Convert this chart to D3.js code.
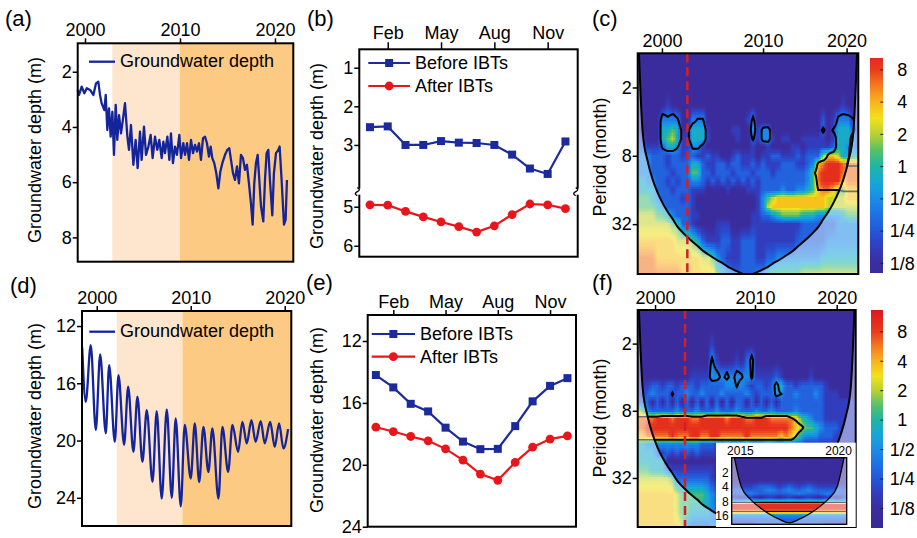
<!DOCTYPE html>
<html>
<head>
<meta charset="utf-8">
<script src="https://cdn.jsdelivr.net/npm/d3@7/dist/d3.min.js"></script>
<style>
body { margin: 0; background: #fff; }
text { font-family: "Liberation Sans", Arial, Helvetica, sans-serif; fill: #000; }
</style>
</head>
<body>
<svg id="fig" width="917" height="538"></svg>
<script>
// ---- groundwater depth series, panels (a) and (d) ----
var aYear = [1999.23,1999.37,1999.65,1999.93,2000.18,2000.53,2000.88,2001.16,2001.40,2001.58,
  2001.75,2002.04,2002.18,2002.35,2002.53,2002.70,2002.88,2003.05,2003.23,2003.40,
  2003.58,2003.79,2003.96,2004.21,2004.46,2004.63,2004.84,2005.09,2005.33,2005.54,
  2005.79,2005.96,2006.21,2006.42,2006.67,2006.91,2007.12,2007.37,2007.61,2007.82,
  2008.07,2008.25,2008.42,2008.67,2008.88,2009.05,2009.26,2009.47,2009.68,2009.93,
  2010.11,2010.35,2010.53,2010.74,2010.95,2011.16,2011.37,2011.58,2011.79,2012.00,
  2012.21,2012.42,2012.63,2012.84,2013.05,2013.23,2013.40,2013.61,2013.82,2014.04,
  2014.25,2014.46,2014.74,2014.98,2015.19,2015.37,2015.58,2015.79,2016.00,2016.21,
  2016.42,2016.63,2016.84,2017.05,2017.26,2017.47,2017.65,2017.82,2018.00,2018.18,
  2018.35,2018.53,2018.77,2018.95,2019.12,2019.30,2019.47,2019.72,2019.89,2020.11,
  2020.35,2020.49,2020.70,2020.95,2021.12,2021.26];
var aDepth = [2.66,2.84,2.54,2.78,2.60,2.66,2.84,2.42,2.36,2.84,
  3.14,3.39,2.84,4.11,3.33,4.35,3.45,5.01,3.20,4.47,
  3.57,4.23,3.81,3.14,4.35,4.83,3.93,5.37,4.47,5.49,
  4.17,5.19,3.99,5.01,4.71,4.29,5.13,4.35,4.83,4.47,
  5.13,4.53,4.95,4.35,5.19,4.23,5.31,4.71,5.01,4.29,
  5.13,4.59,5.01,4.59,5.19,4.47,4.95,4.65,4.89,4.59,
  5.19,4.41,4.35,4.59,5.07,4.71,5.13,5.31,5.67,6.22,
  5.61,5.31,5.01,4.83,4.77,5.19,5.67,5.92,5.43,6.04,
  5.01,5.13,5.55,5.37,6.04,6.76,7.54,6.04,5.31,5.01,
  5.92,6.88,7.42,5.92,4.95,4.83,5.92,7.20,5.67,4.95,
  4.83,4.71,5.92,7.54,7.36,5.92];
var dYear = [1998.45,1998.83,1999.36,1999.90,2000.36,2000.96,2001.32,2001.92,2002.31,2002.91,
  2003.34,2003.90,2004.33,2004.86,2005.32,2005.93,2006.38,2006.91,2007.45,2007.98,
  2008.40,2008.94,2009.36,2010.00,2010.43,2010.90,2011.35,2011.88,2012.30,2012.95,
  2013.37,2013.98,2014.44,2015.04,2015.50,2015.96,2016.46,2016.90,2017.45,2017.87,
  2018.45,2018.94,2019.40,2019.86,2020.36];
var dDepth = [13.5,17.3,13.33,19.27,13.98,19.5,14.73,20.09,15.43,20.3,
  16.24,20.79,16.94,21.49,17.87,22.89,17.94,24.05,17.83,24.0,
  18.45,24.6,18.9,22.65,18.8,22.9,19.04,22.2,19.15,24.05,
  19.04,22.19,18.9,20.79,18.69,20.2,18.57,20.09,18.64,20.2,
  18.69,20.44,18.8,20.55,19.2];
var seriesTicks = [2000, 2010, 2020];

// ---- monthly mean depth, panels (b) and (e) ----
var months = [1, 2, 3, 4, 5, 6, 7, 8, 9, 10, 11, 12];
var monthTicks = [2, 5, 8, 11];
var monthLabels = ['Feb', 'May', 'Aug', 'Nov'];
var bBefore = [2.54, 2.52, 3.0, 3.0, 2.9, 2.94, 2.95, 3.0, 3.25, 3.61, 3.75, 2.91];
var bAfter = [4.95, 4.96, 5.12, 5.26, 5.39, 5.51, 5.65, 5.49, 5.2, 4.93, 4.95, 5.05];
var eBefore = [14.2, 15.0, 16.06, 16.55, 17.6, 18.5, 18.99, 18.97, 17.5, 15.9, 14.9, 14.4];
var eAfter = [17.57, 17.85, 18.17, 18.45, 18.97, 19.7, 20.6, 21.0, 19.84, 18.86, 18.34, 18.13];

// ---- wavelet spectra, panels (c), (f) and the inset ----
// rows: log2(period, months); one digit per column, 0 = 1/8 ... 9 = >8 (power level)
var wtRowsL = [0, 0.5, 1, 1.5, 2, 2.25, 2.5, 2.75, 3, 3.25, 3.5, 3.75, 4, 4.25, 4.5, 4.75, 5, 5.5, 6, 6.5];
var cPower = [
  "00000 00000 00000 00000 00000 00000 00000 00000 00000",
  "00000 00000 00000 00000 00000 00000 00000 00000 00000",
  "00000 00000 00000 00000 00000 00000 00000 00000 00000",
  "00000 01000 00000 00000 00000 00000 00000 00000 01000",
  "10000 33330 03330 00000 00130 00000 00000 00201 33311",
  "10000 44540 14441 00001 10031 33000 00000 00201 44421",
  "21000 45641 14441 00000 10021 33101 10011 11101 44432",
  "22111 24431 13310 00000 00010 01000 01101 11112 44332",
  "33322 21221 22112 11001 21110 11221 11212 22677 64444",
  "33322 21222 24421 12212 21121 21112 22112 37899 98888",
  "33322 22122 25522 12221 22212 22122 22223 58999 98888",
  "44332 21212 23321 21212 12121 22222 22223 58999 97888",
  "44442 22122 21110 00010 00111 22223 22334 57887 55777",
  "55543 22221 21000 00000 00001 35677 77777 77766 66777",
  "55554 32222 21000 00000 00001 36777 77777 77766 66666",
  "66665 54322 21100 00000 00011 22345 55544 43333 34555",
  "66666 66552 21000 01110 00011 11111 11122 22222 33333",
  "77777 77766 65421 11221 12221 11111 11222 22233 33333",
  "88887 77777 77766 53211 12221 12233 33333 33444 44444",
  "88888 88887 77777 75432 22223 34555 55566 66666 66666"];
var cSignif = [
  "00000 00000 00000 00000 00000 00000 00000 00000 00000",
  "00000 00000 00000 00000 00000 00000 00000 00000 00000",
  "00000 00000 00000 00000 00000 00000 00000 00000 00000",
  "00000 00000 00000 00000 00000 00000 00000 00000 00000",
  "00000 97960 04660 00000 00070 00000 00000 00000 79860",
  "00000 99993 49992 00000 00090 78000 00000 00706 99970",
  "00000 99993 49992 00000 00060 78000 00000 00000 99900",
  "00000 69950 06630 00000 00000 00000 00000 00000 99700",
  "00000 00000 00000 00000 00000 00000 00000 00069 99600",
  "00000 00000 00000 00000 00000 00000 00000 06999 99444",
  "00000 00000 00000 00000 00000 00000 00000 47999 99999",
  "00000 00000 00000 00000 00000 00000 00000 07999 99999",
  "00000 00000 00000 00000 00000 00000 00000 05555 56666",
  "00000 00000 00000 00000 00000 00000 00000 00000 00000",
  "00000 00000 00000 00000 00000 00000 00000 00000 00000",
  "00000 00000 00000 00000 00000 00000 00000 00000 00000",
  "00000 00000 00000 00000 00000 00000 00000 00000 00000",
  "00000 00000 00000 00000 00000 00000 00000 00000 00000",
  "00000 00000 00000 00000 00000 00000 00000 00000 00000",
  "00000 00000 00000 00000 00000 00000 00000 00000 00000"];
var fPower = [
  "00000 00000 00000 00000 00000 00000 00000 00000 00000",
  "00000 00000 00000 00000 00000 00000 00000 00000 00000",
  "00000 00000 00000 10000 00000 00000 00000 00000 00000",
  "00000 00000 00000 31000 10230 00000 00000 00000 00000",
  "00000 00000 01111 33333 33331 11121 00000 10000 00000",
  "11122 12212 22122 22233 33212 21244 22122 22210 00000",
  "11232 22122 32232 22322 22321 22233 22322 23211 10000",
  "22202 02020 20202 02020 22020 20202 22222 22211 11111",
  "65322 22232 22322 23222 32223 22322 22322 22211 11111",
  "88889 99899 98899 99989 99889 99888 88754 32211 11111",
  "88999 99999 99999 99999 99999 99999 98765 54322 21111",
  "77888 88988 89988 99888 88988 88887 87643 33222 11111",
  "44333 33333 33322 21121 11211 12211 22221 11111 11111",
  "44442 12121 21211 11111 11111 11111 11111 11111 11111",
  "44444 40000 00000 00000 00000 00000 00000 00000 11111",
  "55544 42111 11111 10000 00000 00000 00000 00000 11111",
  "66666 66522 22222 10000 00000 00000 00000 00000 11111",
  "77777 77765 55554 32111 11111 11111 11111 11111 11111",
  "77777 77765 54444 32222 22222 22222 22222 22222 22222",
  "77777 77776 32222 33333 33333 33333 33333 33333 33333"];
var fSignif = [
  "00000 00000 00000 00000 00000 00000 00000 00000 00000",
  "00000 00000 00000 00000 00000 00000 00000 00000 00000",
  "00000 00000 00000 00000 00000 00000 00000 00000 00000",
  "00000 00000 00000 60000 00070 00000 00000 00000 00000",
  "00000 00000 00000 98372 86060 00000 00000 00000 00000",
  "00000 00000 00000 00000 60000 00080 00000 00000 00000",
  "00000 00600 00000 00000 00000 00075 00000 00000 00000",
  "00000 00000 00000 00000 00000 00000 00000 00000 00000",
  "00000 00000 00000 00000 00000 00000 00000 00000 00000",
  "77777 88888 87779 99999 97666 68888 86400 00000 00000",
  "99999 99999 99999 99999 99999 99999 99972 00000 00000",
  "99999 99999 99999 99999 99999 99999 99510 00000 00000",
  "00000 00000 00000 00000 00000 00000 00000 00000 00000",
  "00000 00000 00000 00000 00000 00000 00000 00000 00000",
  "00000 00000 00000 00000 00000 00000 00000 00000 00000",
  "00000 00000 00000 00000 00000 00000 00000 00000 00000",
  "00000 00000 00000 00000 00000 00000 00000 00000 00000",
  "00000 00000 00000 00000 00000 00000 00000 00000 00000",
  "00000 00000 00000 00000 00000 00000 00000 00000 00000",
  "00000 00000 00000 00000 00000 00000 00000 00000 00000"];
var insetPower = [
  "0000000000000", "0000000000000", "0000000000000", "0000000000000",
  "1112212121111", "2222323232222", "2232222322322", "1010101010102",
  "4455555555544", "9999999999999", "9999999999999", "7777777777777",
  "3333333333333", "2222222222222", "1112222222111", "2222222222222",
  "2222222222222", "2222222222222", "2222222222222", "2222222222222"];
var insetSignif = [
  "0000000000000", "0000000000000", "0000000000000", "0000000000000",
  "0000000000000", "0000000000000", "0000000000000", "0000000000000",
  "3333333333333", "9999999999999", "9999999999999", "4444444444444",
  "0000000000000", "0000000000000", "0000000000000", "0000000000000",
  "0000000000000", "0000000000000", "0000000000000", "0000000000000"];
// cone of influence (period in months) for each spectrum column
var coiMain = [0.5,5,9,13,17,21,25,29,34,38,42,46,50,55,59,63,67,71,76,80,84,88,92,
  88,84,80,76,71,67,63,59,55,50,46,42,38,34,29,25,21,17,13,9,5,0.5];
var coiInset = [0.5,4,7.5,11,15,19,22.5,19,15,11,7.5,4,0.5];
var wtYearLabels = [2000, 2010, 2020];
var cYearIdx = [29, 150, 250];
var fYearIdx = [21, 142, 241];
var insetYearLabels = [2015, 2020];
var insetYearIdx = [4.3, 55.5];
var cIbtIdx = 59.4, fIbtIdx = 57.3;
var periodTicks = [2, 8, 32];
var insetPeriodTicks = [2, 4, 8, 16];
var cbValues = [3, 2, 1, 0, -1, -2, -3];
var cbLabels = ['8', '4', '2', '1', '1/2', '1/4', '1/8'];

var FONT = '"Liberation Sans", Arial, Helvetica, sans-serif';
var svg = d3.select('#fig');
var defs = svg.append('defs');
svg.append('rect').attr('width', 917).attr('height', 538).attr('fill', '#fff');

var powerColor = d3.scaleLinear()
  .domain([-3.7, -3.0, -2.4, -2.0, -1.5, -1.0, -0.5, 0, 0.5, 1.0, 1.5, 2.0, 2.5, 3.0, 3.8])
  .range(['#382896', '#3b2d9f', '#3040c2', '#2456d8', '#1f6fe3', '#1b8be6', '#17a6d8', '#1db5a6',
    '#55c06a', '#b5d035', '#f2e11c', '#f8b51d', '#f47d1f', '#ea3d1d', '#dc151c'])
  .clamp(true);
var levelScale = d3.scaleLinear().domain([0, 9]).range([-3.2, 3.28]);

function parseGrid(rows) {
  return rows.map(function(s) { return s.replace(/ /g, '').split('').map(Number); });
}

function sampleGrid(grid, c, L) {
  var nC = grid[0].length;
  c = Math.max(0, Math.min(nC - 1, c));
  var c0 = Math.min(Math.floor(c), nC - 2), tc = c - c0;
  var r1 = d3.bisectRight(wtRowsL, L), r0;
  if (r1 >= wtRowsL.length) { r1 = wtRowsL.length - 1; L = wtRowsL[r1]; }
  if (r1 < 1) r1 = 1;
  r0 = r1 - 1;
  var tr = Math.max(0, Math.min(1, (L - wtRowsL[r0]) / (wtRowsL[r1] - wtRowsL[r0])));
  var a = grid[r0][c0] * (1 - tc) + grid[r0][c0 + 1] * tc;
  var b = grid[r1][c0] * (1 - tc) + grid[r1][c0 + 1] * tc;
  return a * (1 - tr) + b * tr;
}

function styleAxis(sel, size) {
  sel.attr('font-family', FONT).attr('font-size', size);
  sel.select('.domain').remove();
  sel.selectAll('line').attr('stroke', '#000').attr('stroke-width', 1.5);
  sel.selectAll('text').attr('fill', '#000');
}

function panelLabel(txt, x, y) {
  svg.append('text').attr('x', x).attr('y', y).style('font-size', '22px').text(txt);
}

function yTitle(txt, x, cy) {
  svg.append('text').attr('transform', 'translate(' + x + ',' + cy + ') rotate(-90)')
    .attr('text-anchor', 'middle').style('font-size', '18px').text(txt);
}

function border(g, o, w) {
  g.append('rect').attr('x', o.left).attr('y', o.top).attr('width', o.right - o.left)
    .attr('height', o.bottom - o.top).attr('fill', 'none').attr('stroke', '#000').attr('stroke-width', w);
}

function drawSeriesPanel(o) {
  var g = svg.append('g');
  var x = d3.scaleLinear().domain(o.xDomain).range([o.left, o.right]);
  var y = d3.scaleLinear().domain(o.yDomain).range([o.top, o.bottom]);
  g.append('rect').attr('x', x(o.shade[0])).attr('y', o.top).attr('width', x(o.shade[1]) - x(o.shade[0]))
    .attr('height', o.bottom - o.top).attr('fill', '#fde6cd');
  g.append('rect').attr('x', x(o.shade[1])).attr('y', o.top).attr('width', o.right - x(o.shade[1]))
    .attr('height', o.bottom - o.top).attr('fill', '#fdca84');
  var line = d3.line().x(function(d, i) { return x(o.years[i]); }).y(function(d) { return y(d); }).curve(o.curve);
  g.append('path').datum(o.depth).attr('d', line).attr('fill', 'none').attr('stroke', '#14249a')
    .attr('stroke-width', 2.3).attr('stroke-linejoin', 'round');
  g.append('line').attr('x1', o.legend[0]).attr('x2', o.legend[1]).attr('y1', o.legend[2]).attr('y2', o.legend[2])
    .attr('stroke', '#14249a').attr('stroke-width', 2.3);
  g.append('text').attr('x', o.legend[1] + 5).attr('y', o.legend[2]).attr('dy', '0.32em')
    .style('font-size', '18px').text('Groundwater depth');
  g.append('g').attr('transform', 'translate(0,' + o.top + ')')
    .call(d3.axisTop(x).tickValues(seriesTicks).tickFormat(d3.format('d')).tickSize(5).tickPadding(2))
    .call(styleAxis, 18);
  g.append('g').attr('transform', 'translate(' + o.left + ',0)')
    .call(d3.axisLeft(y).tickValues(o.yTicks).tickFormat(d3.format('d')).tickSize(5).tickPadding(1))
    .call(styleAxis, 18);
  border(g, o, 2);
}

function drawMonthPanel(o) {
  var g = svg.append('g');
  var x = d3.scaleLinear().domain(o.xDomain).range([o.left, o.right]);
  var y = d3.scaleLinear().domain(o.yDomain).range(o.yRange);
  var blue = '#1b2a9c', red = '#e8161b';
  var line = d3.line().x(function(d, i) { return x(months[i]); }).y(function(d) { return y(d); });
  [[o.before, blue, 'square'], [o.after, red, 'circle']].forEach(function(s) {
    g.append('path').datum(s[0]).attr('d', line).attr('fill', 'none').attr('stroke', s[1]).attr('stroke-width', 2.2);
    var m = g.append('g').selectAll('.m').data(s[0]).join(s[2] === 'square' ? 'rect' : 'circle').attr('fill', s[1]);
    if (s[2] === 'square') {
      m.attr('x', function(d, i) { return x(months[i]) - 4; }).attr('y', function(d) { return y(d) - 4; })
        .attr('width', 8).attr('height', 8);
    } else {
      m.attr('cx', function(d, i) { return x(months[i]); }).attr('cy', function(d) { return y(d); }).attr('r', 4.4);
    }
  });
  // legend
  [['Before IBTs', blue, o.legend[2]], ['After IBTs', red, o.legend[3]]].forEach(function(s, k) {
    g.append('line').attr('x1', o.legend[0]).attr('x2', o.legend[1]).attr('y1', s[2]).attr('y2', s[2])
      .attr('stroke', s[1]).attr('stroke-width', 2.2);
    var mx = (o.legend[0] + o.legend[1]) / 2;
    if (k === 0) g.append('rect').attr('x', mx - 4).attr('y', s[2] - 4).attr('width', 8).attr('height', 8).attr('fill', s[1]);
    else g.append('circle').attr('cx', mx).attr('cy', s[2]).attr('r', 4.4).attr('fill', s[1]);
    g.append('text').attr('x', o.legend[1] + 5).attr('y', s[2]).attr('dy', '0.34em').style('font-size', '18px').text(s[0]);
  });
  g.append('g').attr('transform', 'translate(0,' + o.top + ')')
    .call(d3.axisTop(x).tickValues(monthTicks).tickFormat(function(d, i) { return monthLabels[i]; })
      .tickSize(o.tickTop).tickPadding(o.padTop))
    .call(styleAxis, 18);
  g.append('g').attr('transform', 'translate(' + o.left + ',0)')
    .call(d3.axisLeft(y).tickValues(o.yTicks).tickFormat(d3.format('d')).tickSize(5).tickPadding(1))
    .call(styleAxis, 18);
  border(g, o, 2);
  if (o.breakAt) {
    var by = y(o.breakAt);
    [o.left, o.right].forEach(function(bx) {
      g.append('rect').attr('x', bx - 3).attr('y', by - 3).attr('width', 6).attr('height', 6).attr('fill', '#fff');
      g.append('path').attr('d', 'M' + (bx - 2) + ',' + (by - 4) + 'q4,2 0,4q-4,2 0,4')
        .attr('fill', 'none').attr('stroke', '#000').attr('stroke-width', 1.4);
    });
  }
}

function drawWavelet(o) {
  var g = svg.append('g');
  var x = d3.scaleLinear().domain([0, o.nMonths]).range([o.left, o.right]);
  var y = d3.scaleLog().base(2).domain([1, o.pMax]).range([o.top, o.bottom]);
  var power = parseGrid(o.power), signif = parseGrid(o.signif);
  var nC = power[0].length, sub = 4, lStep = 1 / 16;
  var nx = (nC - 1) * sub + 1, ny = Math.ceil(Math.log2(o.pMax) / lStep) + 1;
  var cells = [], sigVals = [];
  for (var j = 0; j < ny; j++) {
    for (var i = 0; i < nx; i++) {
      cells.push({ c: i / sub, L: j * lStep, v: sampleGrid(power, i / sub, j * lStep) });
      sigVals.push(sampleGrid(signif, i / sub, j * lStep));
    }
  }
  var cw = (x(o.colMonths) - x(0)) / sub;
  defs.append('clipPath').attr('id', o.id + '-plot').append('rect').attr('x', o.left).attr('y', o.top)
    .attr('width', o.right - o.left).attr('height', o.bottom - o.top);
  var inner = g.append('g').attr('clip-path', 'url(#' + o.id + '-plot)');
  inner.append('g').attr('shape-rendering', 'crispEdges').selectAll('rect').data(cells).join('rect')
    .attr('x', function(d) { return x(d.c * o.colMonths) - cw / 2; })
    .attr('y', function(d) { return y(Math.pow(2, d.L - lStep / 2)); })
    .attr('width', cw + 0.6)
    .attr('height', function(d) { return y(Math.pow(2, d.L + lStep / 2)) - y(Math.pow(2, d.L - lStep / 2)) + 0.6; })
    .attr('fill', function(d) { return powerColor(levelScale(d.v)); });

  var coiX = function(d, i) { return x(i * o.colMonths); };
  var coiY = function(d) { return y(d); };
  var outside = d3.area().x(coiX).y0(o.bottom + 20).y1(coiY).curve(d3.curveMonotoneX);
  var insideA = d3.area().x(coiX).y0(o.top - 80).y1(coiY).curve(d3.curveMonotoneX);
  defs.append('clipPath').attr('id', o.id + '-in').append('path').attr('d', insideA(o.coi));
  defs.append('clipPath').attr('id', o.id + '-out').append('path').attr('d', outside(o.coi));
  inner.append('path').attr('d', outside(o.coi)).attr('fill', '#fff').attr('fill-opacity', 0.45);

  var contour = d3.contours().size([nx, ny]).thresholds([5])(sigVals)[0];
  var proj = d3.geoTransform({ point: function(gx, gy) {
    this.stream.point(x((gx - 0.5) / sub * o.colMonths), y(Math.pow(2, (gy - 0.5) * lStep)));
  } });
  var cpath = d3.geoPath(proj)(contour);
  if (cpath) {
    inner.append('g').attr('clip-path', 'url(#' + o.id + '-in)').append('path').attr('d', cpath)
      .attr('fill', 'none').attr('stroke', '#000').attr('stroke-width', o.lw);
    inner.append('g').attr('clip-path', 'url(#' + o.id + '-out)').append('path').attr('d', cpath)
      .attr('fill', 'none').attr('stroke', '#6f6f6f').attr('stroke-width', o.lw * 0.8);
  }
  inner.append('path').attr('d', d3.line().x(coiX).y(coiY).curve(d3.curveMonotoneX)(o.coi))
    .attr('fill', 'none').attr('stroke', '#000').attr('stroke-width', o.lw);
  if (o.ibtIdx != null) {
    g.append('line').attr('x1', x(o.ibtIdx)).attr('x2', x(o.ibtIdx)).attr('y1', o.top).attr('y2', o.bottom)
      .attr('stroke', '#d1202b').attr('stroke-width', 2.5).attr('stroke-dasharray', '9,5');
  }
  border(g, o, o.lw);
  g.append('g').attr('transform', 'translate(0,' + o.top + ')')
    .call(d3.axisTop(x).tickValues(o.tickIdx).tickFormat(function(d, i) { return o.tickLabels[i]; })
      .tickSize(o.tick).tickPadding(o.pad))
    .call(styleAxis, o.font);
  g.append('g').attr('transform', 'translate(' + o.left + ',0)')
    .call(d3.axisLeft(y).tickValues(o.yTicks).tickFormat(d3.format('d')).tickSize(o.tick).tickPadding(o.pad))
    .call(styleAxis, o.font);
}

function drawColorbar(o) {
  var g = svg.append('g');
  var yb = d3.scaleLinear().domain([o.lMin, o.lMax]).range([o.bottom, o.top]);
  var steps = d3.range(o.lMin, o.lMax, 0.02);
  g.append('g').attr('shape-rendering', 'crispEdges').selectAll('rect').data(steps).join('rect')
    .attr('x', o.left).attr('width', o.right - o.left)
    .attr('y', function(d) { return yb(Math.min(d + 0.02, o.lMax)); })
    .attr('height', function(d) { return yb(d) - yb(Math.min(d + 0.02, o.lMax)) + 0.6; })
    .attr('fill', function(d) { return powerColor(d); });
  g.selectAll('.cbt').data(cbValues).join('line')
    .attr('x1', o.right - 3).attr('x2', o.right).attr('y1', function(d) { return yb(d); }).attr('y2', function(d) { return yb(d); })
    .attr('stroke', '#222').attr('stroke-width', 1);
  g.selectAll('.cbl').data(cbValues).join('text')
    .attr('x', o.right + 19).attr('y', function(d) { return yb(d); }).attr('dy', '0.35em')
    .attr('text-anchor', 'middle').style('font-size', '18px')
    .text(function(d, i) { return cbLabels[i]; });
}

// (a)
drawSeriesPanel({ left: 77.7, right: 293.3, top: 43.3, bottom: 261.7, xDomain: [1999.23, 2021.93], yDomain: [0.97, 8.88],
  years: aYear, depth: aDepth, curve: d3.curveLinear, shade: [2002.87, 2010.0], yTicks: [2, 4, 6, 8], legend: [89, 115, 61.7] });
// (d)
drawSeriesPanel({ left: 82, right: 291.3, top: 311, bottom: 526, xDomain: [1998.43, 2020.7], yDomain: [10.95, 25.97],
  years: dYear, depth: dDepth, curve: d3.curveMonotoneX, shade: [2002.13, 2009.12], yTicks: [12, 16, 20, 24], legend: [89.3, 115, 331.7] });
// (b)
drawMonthPanel({ left: 359.3, right: 577.7, top: 49.3, bottom: 256.7, xDomain: [0.4, 12.69],
  yDomain: [0.524, 4.21, 4.615, 6.28], yRange: [49.3, 191.7, 191.7, 256.7], breakAt: 4.21,
  before: bBefore, after: bAfter, yTicks: [1, 2, 3, 5, 6], tickTop: 7, padTop: 3, legend: [368.3, 410, 63, 86] });
// (e)
drawMonthPanel({ left: 367.7, right: 576, top: 315, bottom: 526.7, xDomain: [0.53, 12.49],
  yDomain: [10.32, 24], yRange: [315, 526.7],
  before: eBefore, after: eAfter, yTicks: [12, 16, 20, 24], tickTop: 5, padTop: 2, legend: [371.7, 415, 334, 356.7] });
// (c)
drawWavelet({ id: 'wc', left: 637.7, right: 858.3, top: 53.3, bottom: 274, nMonths: 264, colMonths: 6, pMax: 88,
  power: cPower, signif: cSignif, coi: coiMain, tickIdx: cYearIdx, tickLabels: wtYearLabels, yTicks: periodTicks,
  ibtIdx: cIbtIdx, lw: 2, tick: 5, pad: 1, font: 18 });
drawColorbar({ left: 870, right: 883.3, top: 58.3, bottom: 272, lMin: -3.27, lMax: 3.36 });
// (f)
drawWavelet({ id: 'wf', left: 637.7, right: 855.7, top: 310, bottom: 527, nMonths: 264, colMonths: 6, pMax: 88,
  power: fPower, signif: fSignif, coi: coiMain, tickIdx: fYearIdx, tickLabels: wtYearLabels, yTicks: periodTicks,
  ibtIdx: fIbtIdx, lw: 2, tick: 5, pad: 1, font: 18 });
drawColorbar({ left: 871, right: 883.3, top: 310, bottom: 527, lMin: -3.63, lMax: 3.74 });
// inset of (f)
svg.append('rect').attr('x', 716).attr('y', 442.7).attr('width', 139.7).attr('height', 84.3).attr('fill', '#fff');
drawWavelet({ id: 'wi', left: 731.7, right: 846.7, top: 457.7, bottom: 524.3, nMonths: 60, colMonths: 5, pMax: 24,
  power: insetPower, signif: insetSignif, coi: coiInset, tickIdx: insetYearIdx, tickLabels: insetYearLabels,
  yTicks: insetPeriodTicks, ibtIdx: null, lw: 1.3, tick: 0, pad: 3, font: 12 });

yTitle('Groundwater depth (m)', 41, 150);
yTitle('Groundwater depth (m)', 41, 416);
yTitle('Groundwater depth (m)', 323, 156);
yTitle('Groundwater depth (m)', 323, 420);
yTitle('Period (month)', 606, 157);
yTitle('Period (month)', 606, 418);
panelLabel('(a)', 5, 26);
panelLabel('(b)', 307, 26);
panelLabel('(c)', 592, 26);
panelLabel('(d)', 10, 293);
panelLabel('(e)', 306, 290);
panelLabel('(f)', 592, 290);
</script>
</body>
</html>
